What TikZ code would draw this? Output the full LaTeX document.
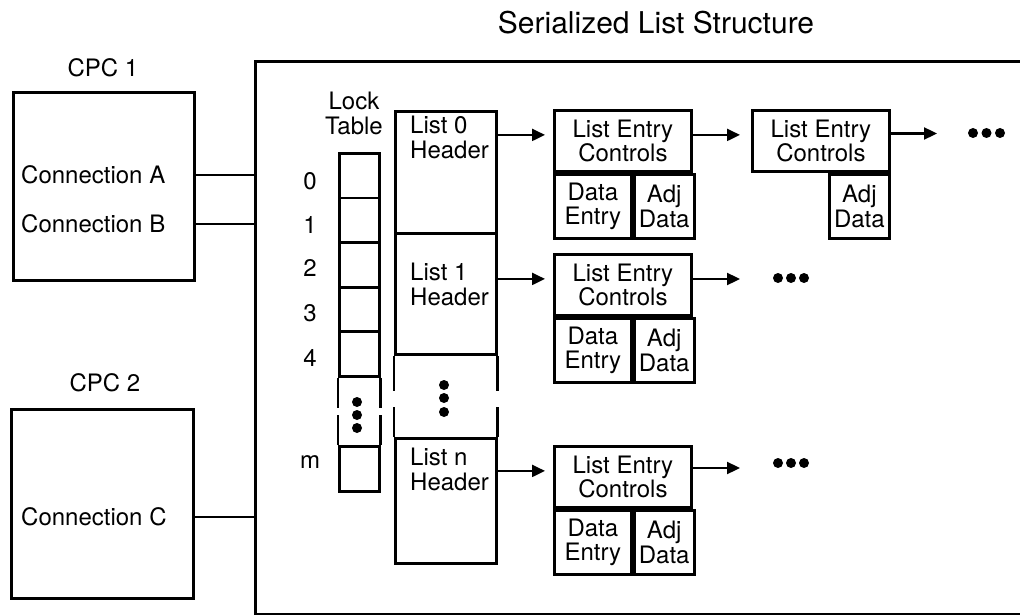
\documentclass[tikz,border=0pt]{standalone}
\usepackage{fontspec}
\setmainfont{TeX Gyre Heros}
\usetikzlibrary{positioning,arrows.meta}

\begin{document}
\begin{tikzpicture}[x=1pt, y=-1pt,
    every node/.style={font=\fontsize{24}{24.5}\selectfont},
    box/.style={draw, line width=2.8pt, inner sep=0pt, align=center, anchor=north west},
    txt/.style={inner sep=0pt, align=center},
    hdrtxt/.style={inner sep=0pt, align=left, anchor=north west},
    ctrl/.style={box, minimum width=137, minimum height=61},
    dcell/.style={box, minimum width=77, minimum height=64},
    acell/.style={box, minimum width=60, minimum height=64},
    wire/.style={line width=2.8pt},
    link/.style={line width=2.3pt, shorten >=8pt, -{Triangle[length=13pt,width=12pt]}}
]
\clip (0,0) rectangle (1020,615);

% Title
\node[txt, font=\fontsize{30}{32}\selectfont] (title) at (656,23) {Serialized List Structure};

% CPC boxes
\node[box, minimum width=181, minimum height=188] (cpc1) at (12,91) {};
\node[txt] (cpc1lbl) at (103,68) {CPC 1};
\node[txt, anchor=west] (conA) at (21,175) {Connection A};
\node[txt, anchor=west] (conB) at (21,224) {Connection B};

\node[box, minimum width=182, minimum height=189] (cpc2) at (10,408) {};
\node[txt] (cpc2lbl) at (105,383) {CPC 2};
\node[txt, anchor=west] (conC) at (21,517) {Connection C};

% Structure frame
\node[box, minimum width=776, minimum height=553] (sls) at (254,60) {};

\draw[wire] (conA -| cpc1.east) -- (conA -| sls.west);
\draw[wire] (conB -| cpc1.east) -- (conB -| sls.west);
\draw[wire] (conC -| cpc2.east) -- (conC -| sls.west);

% Lock table
\node[txt, anchor=north] (locklbl) at (354,92) {Lock\\Table};
\foreach \i/\t in {0/181,1/225,2/268,3/313,4/358} {
    \node[box, minimum width=40, minimum height=44.6] (lt\i) at (338,{152+44.6*\i}) {};
    \node[txt] (idx\i) at (310,\t) {\i};
}
\node[box, minimum width=40, minimum height=45] (ltm) at (338,445) {};
\node[txt] (idxm) at (310,462) {m};
\draw[wire] (lt4.south west) -- ++(0,30) (lt4.south east) -- ++(0,30);
\draw[wire] (ltm.north west) -- ++(0,-30) (ltm.north east) -- ++(0,-30);
\foreach \y in {402,415,428}
    \fill (357,\y) circle (5);

% List headers
\node[box, minimum width=101, minimum height=122] (hd0) at (394,110) {};
\node[box, minimum width=101, minimum height=121] (hd1) at (394,232) {};
\node[box, minimum width=101, minimum height=125] (hdn) at (394,437) {};
\node[hdrtxt] (hd0txt) at (410,116) {List 0\\Header};
\node[hdrtxt] (hd1txt) at (410,263) {List 1\\Header};
\node[hdrtxt] (hdntxt) at (410,448) {List n\\Header};
\draw[wire] (hd1.south west) -- ++(0,35) (hd1.south east) -- ++(0,35);
\draw[wire] (hdn.north west) -- ++(0,-30) (hdn.north east) -- ++(0,-30);
\foreach \y in {385,398,412}
    \fill (444,\y) circle (5);

% List entries
\foreach \r/\y in {0/109,1/253,n/445} {
    \node[ctrl] (ec\r) at (553,\y) {List Entry\\Controls};
    \node[dcell] (de\r) at (ec\r.south west) {Data\\Entry};
    \node[acell] (ad\r) at (de\r.north east) {Adj\\Data};
    \draw[link] ([yshift=6pt]ec\r.west -| hd\r.east) -- ([yshift=6pt]ec\r.west);
}
\node[ctrl] (ec0b) at (751,109) {List Entry\\Controls};
\node[acell, anchor=north east] (ad0b) at (ec0b.south east) {Adj\\Data};
\draw[link, shorten >=11pt] ([yshift=6pt]ec0.east) -- ([yshift=6pt]ec0b.west);

% Continuation
\coordinate (end0) at (945,133.5);
\coordinate (end1) at (748,279);
\coordinate (endn) at (748,468);
\draw[link] (ec0b.east |- end0) -- (end0);
\draw[link] (ec1.east |- end1) -- (end1);
\draw[link] (ecn.east |- endn) -- (endn);
\foreach \x in {973,986.5,1000}
    \fill (\x,133) circle (5);
\foreach \x in {778,791,804} {
    \fill (\x,278) circle (5);
    \fill (\x,463) circle (5);
}

\end{tikzpicture}
\end{document}
